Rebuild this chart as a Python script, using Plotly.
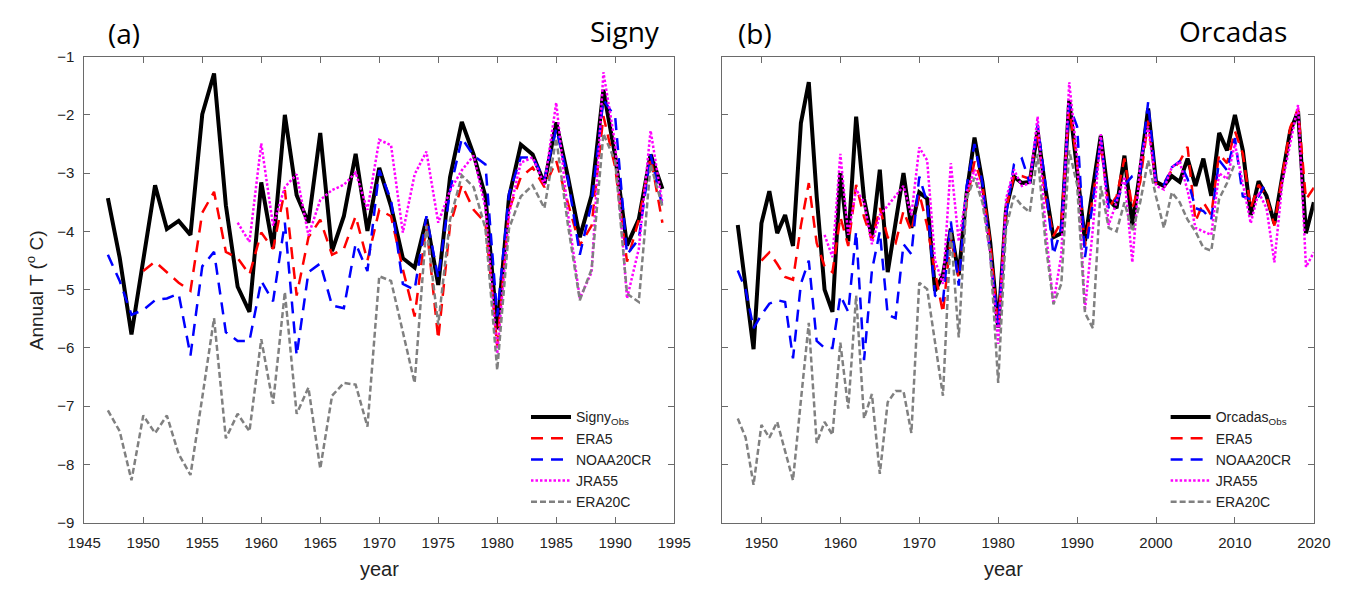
import plotly.graph_objects as go

# ---------------- Data: Signy (panel a) ----------------
signy_years = list(range(1947, 1995))
signy_obs = [-3.43, -4.45, -5.77, -4.5, -3.21, -3.96, -3.82, -4.06, -1.99, -1.29,
             -3.55, -4.95, -5.38, -3.16, -4.29, -2.0, -3.38, -3.85, -2.31, -4.34,
             -3.74, -2.67, -3.99, -2.91, -3.57, -4.46, -4.62, -3.79, -4.92, -3.07,
             -2.12, -2.68, -3.4, -5.68, -3.41, -2.51, -2.68, -3.18, -2.13, -3.07,
             -4.1, -3.38, -1.57, -2.71, -4.24, -3.79, -2.68, -3.27]
signy_era5_start = 1950
signy_era5 = [-4.68, -4.52, -4.7, -4.88, -5.02, -3.68, -3.32, -4.35, -4.46, -4.74,
              -4.02, -4.3, -3.29, -5.1, -4.1, -3.8, -4.4, -4.3, -3.74, -4.5,
              -3.63, -3.74, -4.65, -5.46, -3.88, -5.85, -3.9, -3.2, -3.63, -3.85,
              -5.96, -3.63, -3.07, -2.9, -3.24, -2.79, -3.52, -4.24, -3.9, -2.02,
              -2.9, -4.52, -3.8, -2.72, -3.85]
signy_noaa_start = 1947
signy_noaa = [-4.4, -4.85, -5.43, -5.35, -5.18, -5.15, -5.07, -6.13, -4.6, -4.35,
              -5.73, -5.88, -5.88, -4.85, -5.2, -3.85, -6.13, -4.7, -4.55, -5.27,
              -5.32, -4.21, -4.68, -2.95, -3.46, -4.9, -5.0, -3.74, -4.8, -3.3,
              -2.4, -2.7, -2.85, -5.46, -3.35, -2.73, -2.73, -3.1, -2.24, -3.1,
              -4.4, -3.52, -1.74, -2.04, -4.4, -4.13, -2.68, -3.57]
signy_jra_start = 1958
signy_jra = [-3.85, -4.18, -2.49, -3.9, -3.24, -3.02, -4.07, -3.46, -3.29, -3.2,
             -2.99, -3.63, -2.43, -2.52, -4.02, -3.02, -2.63, -3.85, -3.3, -2.95,
             -2.7, -3.6, -6.1, -3.7, -2.82, -2.73, -3.2, -1.79, -3.7, -5.15,
             -4.7, -1.27, -2.5, -5.15, -4.3, -2.27, -3.52]
signy_e20c_start = 1947
signy_e20c = [-7.07, -7.43, -8.27, -7.16, -7.46, -7.16, -7.82, -8.18, -6.85, -5.49,
              -7.55, -7.13, -7.43, -5.85, -6.96, -5.04, -7.13, -6.68, -8.07, -6.82,
              -6.6, -6.63, -7.35, -4.77, -4.85, -5.73, -6.6, -3.9, -5.6, -3.8,
              -3.04, -3.24, -3.95, -6.38, -3.95, -3.4, -3.21, -3.6, -2.4, -3.9,
              -5.18, -4.65, -2.32, -2.8, -5.07, -5.21, -2.85, -3.57]

# ---------------- Data: Orcadas (panel b) ----------------
orc_years = list(range(1947, 2021))
orc_obs = [-3.89, -5.0, -6.02, -3.86, -3.31, -4.03, -3.72, -4.25, -2.14, -1.44,
           -3.4, -5.0, -5.38, -3.0, -4.17, -2.03, -3.44, -4.11, -2.94, -4.7,
           -3.89, -3.0, -3.94, -3.33, -3.44, -5.02, -4.75, -3.95, -4.75, -3.35,
           -2.39, -3.15, -4.2, -5.65, -3.61, -3.06, -3.17, -3.15, -2.28, -3.28,
           -4.1, -4.03, -1.75, -2.95, -4.17, -3.25, -2.36, -3.45, -3.6, -2.7,
           -3.9, -2.95, -1.89, -3.15, -3.22, -3.05, -3.15, -2.75, -3.22, -2.75,
           -3.39, -2.31, -2.61, -2.0, -2.61, -3.72, -3.14, -3.39, -3.86, -3.06,
           -2.28, -1.94, -4.03, -3.5]
orc_era5_start = 1950
orc_era5 = [-4.5, -4.36, -4.56, -4.78, -4.83, -3.9, -3.17, -4.2, -4.6, -4.7,
            -3.75, -4.25, -3.2, -3.75, -4.15, -3.6, -4.1, -4.2, -3.65, -4.0,
            -3.35, -3.9, -4.7, -5.4, -4.1, -4.8, -3.5, -2.8, -3.2, -4.2,
            -5.65, -3.6, -3.05, -3.05, -3.1, -2.3, -3.4, -4.08, -3.83, -1.9,
            -2.8, -4.25, -3.4, -2.5, -3.6, -3.4, -2.75, -3.6, -3.15, -2.1,
            -3.17, -3.17, -2.95, -2.8, -2.55, -3.83, -3.5, -3.72, -2.67, -2.83,
            -2.28, -2.67, -3.6, -3.2, -3.4, -3.9, -3.05, -2.22, -1.9, -3.45,
            -3.25]
orc_noaa_start = 1947
orc_noaa = [-4.67, -5.0, -5.66, -5.43, -5.24, -5.18, -5.21, -6.18, -4.9, -4.5,
            -5.88, -6.0, -6.0, -5.1, -5.38, -4.0, -6.21, -4.67, -4.0, -5.43,
            -5.49, -4.22, -4.39, -3.06, -3.5, -5.1, -5.2, -3.83, -4.93, -3.22,
            -2.5, -3.17, -4.4, -5.6, -3.72, -2.85, -2.75, -3.17, -2.17, -3.2,
            -4.4, -3.94, -1.83, -2.2, -4.44, -3.5, -2.4, -3.6, -3.45, -3.2,
            -3.05, -3.0, -1.78, -3.17, -3.2, -2.9, -2.8, -3.1, -3.6, -3.65,
            -3.8, -2.78, -2.95, -2.4, -3.4, -3.45, -3.4, -3.14]
orc_jra_start = 1958
orc_jra = [-4.06, -4.44, -2.67, -4.06, -3.28, -3.5, -4.22, -3.72, -3.56, -3.39,
           -3.22, -3.72, -2.56, -2.78, -4.5, -4.9, -2.83, -4.17, -3.33, -2.94,
           -3.4, -4.4, -5.93, -3.44, -2.94, -3.22, -3.17, -2.03, -3.94, -5.24,
           -4.4, -1.44, -2.72, -5.35, -3.95, -2.33, -3.89, -3.5, -3.06, -4.53,
           -2.83, -2.2, -3.22, -3.28, -2.9, -2.8, -3.3, -3.94, -4.0, -4.06,
           -3.0, -3.1, -2.5, -3.2, -3.86, -3.33, -3.6, -4.53, -3.17, -2.5,
           -1.83, -4.61, -4.36]
orc_e20c_start = 1947
orc_e20c = [-7.21, -7.54, -8.35, -7.32, -7.54, -7.27, -7.77, -8.27, -6.9, -5.57,
            -7.63, -7.27, -7.49, -5.91, -7.04, -5.1, -7.21, -6.79, -8.16, -6.93,
            -6.74, -6.74, -7.46, -4.88, -4.99, -5.9, -6.82, -4.0, -5.82, -3.44,
            -3.08, -3.5, -4.4, -6.6, -3.94, -3.39, -3.56, -3.67, -2.67, -4.2,
            -5.25, -4.9, -2.61, -3.2, -5.4, -5.66, -3.22, -3.94, -4.0, -3.5,
            -4.0, -3.5, -2.78, -3.4, -3.94, -3.33, -3.5, -3.8, -4.0, -4.28,
            -4.33, -3.44, -3.17, -2.83]

x_ticks_a = list(range(1945, 1996, 5))
x_ticks_b = list(range(1950, 2021, 10))
y_ticks = list(range(-9, 0))


def yrs(start, vals):
    return list(range(start, start + len(vals)))


STY = {
    "obs": dict(color="black", width=4, dash="solid"),
    "era5": dict(color="#ff0000", width=2.5, dash="12px,8px"),
    "noaa": dict(color="#0000ff", width=2.5, dash="12px,8px"),
    "jra": dict(color="#ff00ff", width=2.5, dash="2.5px,2px"),
    "e20c": dict(color="#808080", width=2.5, dash="6px,3px"),
}

fig = go.Figure()


def add_panel(xa, ya, leg, obs_name, obs_years, obs_vals, e5, noaa, jra, e20):
    fig.add_trace(go.Scatter(x=obs_years, y=obs_vals, mode="lines", name=obs_name,
                             line=STY["obs"], xaxis=xa, yaxis=ya, legend=leg))
    fig.add_trace(go.Scatter(x=yrs(*e5), y=e5[1], mode="lines", name="ERA5",
                             line=STY["era5"], xaxis=xa, yaxis=ya, legend=leg))
    fig.add_trace(go.Scatter(x=yrs(*noaa), y=noaa[1], mode="lines", name="NOAA20CR",
                             line=STY["noaa"], xaxis=xa, yaxis=ya, legend=leg))
    fig.add_trace(go.Scatter(x=yrs(*jra), y=jra[1], mode="lines", name="JRA55",
                             line=STY["jra"], xaxis=xa, yaxis=ya, legend=leg))
    fig.add_trace(go.Scatter(x=yrs(*e20), y=e20[1], mode="lines", name="ERA20C",
                             line=STY["e20c"], xaxis=xa, yaxis=ya, legend=leg))


add_panel("x", "y", "legend", "Signy<sub>Obs</sub>", signy_years, signy_obs,
          (signy_era5_start, signy_era5), (signy_noaa_start, signy_noaa),
          (signy_jra_start, signy_jra), (signy_e20c_start, signy_e20c))
add_panel("x2", "y2", "legend2", "Orcadas<sub>Obs</sub>", orc_years, orc_obs,
          (orc_era5_start, orc_era5), (orc_noaa_start, orc_noaa),
          (orc_jra_start, orc_jra), (orc_e20c_start, orc_e20c))

W, H = 1364, 591
dom_y = [1 - 529 / H, 1 - 49 / H]
axis_common = dict(showline=True, linecolor="#6a6a6a", linewidth=1, mirror="ticks",
                   ticks="inside", ticklen=6, tickcolor="#6a6a6a", showgrid=False,
                   zeroline=False, tickfont=dict(family="Liberation Sans, Arial", size=15, color="#222"),
                   ticklabelstandoff=6)

leg_font = dict(family="Liberation Sans, Arial", size=14, color="#222")
fig.update_layout(
    width=W, height=H, margin=dict(l=0, r=0, t=0, b=0),
    paper_bgcolor="white", plot_bgcolor="white",
    xaxis=dict(domain=[69 / W, 674 / W], range=[1945, 1995], tickvals=x_ticks_a, anchor="y", **axis_common),
    yaxis=dict(domain=dom_y, range=[-9, -1], tickvals=y_ticks, anchor="x", **axis_common),
    xaxis2=dict(domain=[723 / W, 1330 / W], range=[1945, 2020], tickvals=x_ticks_b, anchor="y2", **axis_common),
    yaxis2=dict(domain=dom_y, range=[-9, -1], tickvals=y_ticks, anchor="x2", showticklabels=False,
                **axis_common),
    legend=dict(x=522 / W, y=1 - 404 / H, xanchor="left", yanchor="top", bgcolor="rgba(255,255,255,0)",
                font=leg_font, tracegroupgap=0, itemwidth=40),
    legend2=dict(x=1178 / W, y=1 - 404 / H, xanchor="left", yanchor="top", bgcolor="rgba(255,255,255,0)",
                 font=leg_font, tracegroupgap=0, itemwidth=40),
    showlegend=True,
)

ann_font_big = dict(family="Open Sans, Noto Sans", size=28, color="black")
anns = [
    dict(text="(a)", x=110 / W, y=1 - 25 / H, xanchor="center", yanchor="middle", font=ann_font_big),
    dict(text="Signy", x=661 / W, y=1 - 23 / H, xanchor="right", yanchor="middle", font=ann_font_big),
    dict(text="(b)", x=757 / W, y=1 - 25 / H, xanchor="center", yanchor="middle", font=ann_font_big),
    dict(text="Orcadas", x=1305 / W, y=1 - 23 / H, xanchor="right", yanchor="middle", font=ann_font_big),
    dict(text="year", x=372 / W, y=1 - 577 / H, xanchor="center", yanchor="middle",
         font=dict(family="Liberation Sans, Arial", size=20, color="#222")),
    dict(text="year", x=1012 / W, y=1 - 577 / H, xanchor="center", yanchor="middle",
         font=dict(family="Liberation Sans, Arial", size=20, color="#222")),
    dict(text="Annual T (<sup>o</sup> C)", x=18 / W, y=1 - 290 / H, xanchor="center", yanchor="middle",
         textangle=-90, font=dict(family="Liberation Sans, Arial", size=19, color="#222")),
]
for a in anns:
    a.update(xref="paper", yref="paper", showarrow=False)
fig.update_layout(annotations=anns)

fig.write_html("out.html")
